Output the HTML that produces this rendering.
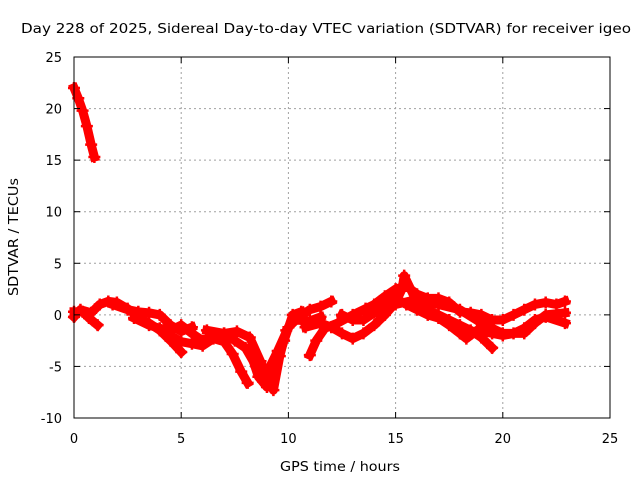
<!DOCTYPE html>
<html><head><meta charset="utf-8"><style>
body{margin:0;background:#fff;width:640px;height:480px;overflow:hidden}
svg{font-family:"DejaVu Sans","Liberation Sans",sans-serif;font-size:13px}
</style></head><body>
<svg id="chart" width="640" height="480" viewBox="0 0 640 480">
<text x="326" y="33" text-anchor="middle" textLength="610" lengthAdjust="spacingAndGlyphs">Day 228 of 2025, Sidereal Day-to-day VTEC variation (SDTVAR) for receiver igeo</text>
<text x="340" y="471" text-anchor="middle" textLength="120" lengthAdjust="spacingAndGlyphs">GPS time / hours</text>
<text transform="translate(18,237) rotate(-90)" text-anchor="middle" textLength="118" lengthAdjust="spacingAndGlyphs">SDTVAR / TECUs</text>
<g id="grid"></g>
<g id="marks"></g>
<rect x="74" y="57" width="536" height="361" fill="none" stroke="#000" stroke-width="1"/>
<g id="axes"></g>
</svg>
<script>
const xTicks=[0,5,10,15,20,25];
const yTicks=[-10,-5,0,5,10,15,20,25];
const track1=[[0,22],[0.2,21],[0.4,19.8],[0.6,18.3],[0.8,16.5],[0.95,15.3]];
const track2=[[0,0.3],[0.4,0.3],[0.7,-0.3],[1.1,-1]];
const track3=[[0,-0.2],[0.3,0.5],[0.8,0.2],[1.2,1],[1.6,1.3],[2,1.2],[2.5,0.6],[3,-0.2],[3.5,-0.8],[4,-1.5],[4.5,-2.5],[5,-3.6]];
const track4=[[1.8,1],[2.5,0.5],[3,0.3],[3.5,0.2],[4,0],[4.5,-1],[5,-1.6],[5.5,-1.2]];
const track5=[[2.8,-0.3],[3.5,-1],[4,-1.3],[4.5,-1.5],[5,-1],[5.5,-1.8],[6,-2.5],[6.5,-2],[7,-1.8],[7.5,-2.5],[8,-3.2],[8.5,-5],[9,-5.6],[9.5,-3.5],[10,-1.2],[10.5,-0.2],[11,0.5],[11.5,0.8],[12,1.3]];
const track6=[[4.5,-2],[5,-2.6],[5.5,-2.8],[6,-3],[6.5,-2.3],[7,-2.6],[7.4,-3.8],[7.8,-5.5],[8.1,-6.6]];
const track7=[[6.2,-1.5],[7,-1.8],[7.6,-1.6],[8.2,-2.2],[8.7,-4.5],[9,-6],[9.3,-7.3],[9.6,-4],[9.9,-1.5],[10.3,-0.5],[11,-0.6],[11.5,-0.2]];
const track8=[[8.2,-3.5],[8.6,-6],[9,-7],[9.4,-5],[9.8,-2.5],[10.2,0],[10.6,0.3]];
const track9=[[11,-3.9],[11.3,-2.5],[11.7,-1.3],[12.3,-0.8],[13,0],[13.6,0.6],[14,1],[14.5,1.8],[15,2.5],[15.5,2.8],[16,2],[16.5,1.6],[17,1.6],[17.5,1.2],[18,0.3],[18.5,0.2],[19,0],[19.5,-0.5],[20,-0.5],[20.5,0],[21,0.5],[21.5,1],[22,1.2],[22.5,1],[22.9,1.3]];
const track10=[[10.8,-1.2],[11.5,-0.8],[12,-1.2],[12.5,-1.8],[13,-2.3],[13.5,-1.8],[14,-1],[14.5,0],[15,1.2],[15.3,2.5],[15.4,3.8],[15.7,2.5],[16,1.2],[16.5,0.5],[17,0],[17.5,-0.5],[18,-1],[18.5,-1.5],[19,-2.2],[19.5,-3.2]];
const track11=[[12.5,0],[13,-0.5],[13.5,-0.5],[14,0.2],[14.5,1],[15,1.6],[15.5,1],[16,0.5],[16.5,0],[17,-0.3],[17.5,-1],[18,-1.8],[18.3,-2.3],[18.8,-1.5],[19.5,-1.8],[20,-2],[20.5,-1.8],[21,-1.3],[21.5,-0.5],[22,-0.2],[22.9,-0.8]];
const track12=[[14.2,0.3],[15,1],[16,1.5],[17,1],[18,0.5],[19,-0.8],[20,-1.8],[21,-1.8],[21.5,-0.8],[22,0],[22.9,0.2]];
const tracks=[track1,track2,track3,track4,track5,track6,track7,track8,track9,track10,track11,track12];
const X0=74,X1=610,Y0=418,Y1=57;
function sx(h){return X0+(h-0)/(25-0)*(X1-X0);}
function sy(v){return Y0-(v+10)/(35)*(Y0-Y1);}
const NS="http://www.w3.org/2000/svg";
const grid=document.getElementById('grid'),axes=document.getElementById('axes'),marks=document.getElementById('marks');
function el(t,a,p){const e=document.createElementNS(NS,t);for(const k in a)e.setAttribute(k,a[k]);p.appendChild(e);return e;}
xTicks.forEach(t=>{const x=sx(t);
 if(t>0&&t<25){const g=el('line',{x1:x,x2:x,y1:Y1,y2:Y0,stroke:'#a0a0a0','stroke-dasharray':'2,3'},grid);
 
 }
 el('line',{x1:x,x2:x,y1:Y0,y2:Y0-6,stroke:'#000'},axes);
 el('line',{x1:x,x2:x,y1:Y1,y2:Y1+6,stroke:'#000'},axes);
 const l=el('text',{x:x,y:443,'text-anchor':'middle'},axes);l.textContent=t;
 
 });
yTicks.forEach(t=>{const y=sy(t);
 if(t>-10&&t<25){const g=el('line',{x1:X0,x2:X1,y1:y,y2:y,stroke:'#a0a0a0','stroke-dasharray':'2,3'},grid);
 
 }
 el('line',{x1:X0,x2:X0+6,y1:y,y2:y,stroke:'#000'},axes);
 el('line',{x1:X1,x2:X1-6,y1:y,y2:y,stroke:'#000'},axes);
 const l=el('text',{x:62,y:y+5,'text-anchor':'end'},axes);l.textContent=t;
 
 });
tracks.forEach(tr=>{
 const pts=tr.map(p=>sx(p[0]).toFixed(1)+','+sy(p[1]).toFixed(1)).join(' ');
 const pl=el('polyline',{points:pts,fill:'none',stroke:'#ff0000','stroke-width':9,'stroke-linejoin':'round','stroke-linecap':'square'},marks);
 
 
 tr.forEach(p=>{const x=sx(p[0]),y=sy(p[1]);
  const m=el('path',{d:`M${x-6},${y}H${x+6}M${x},${y-6}V${y+6}`,stroke:'#ff0000','stroke-width':2.5},marks);
  
  });
});
</script>
</body></html>
